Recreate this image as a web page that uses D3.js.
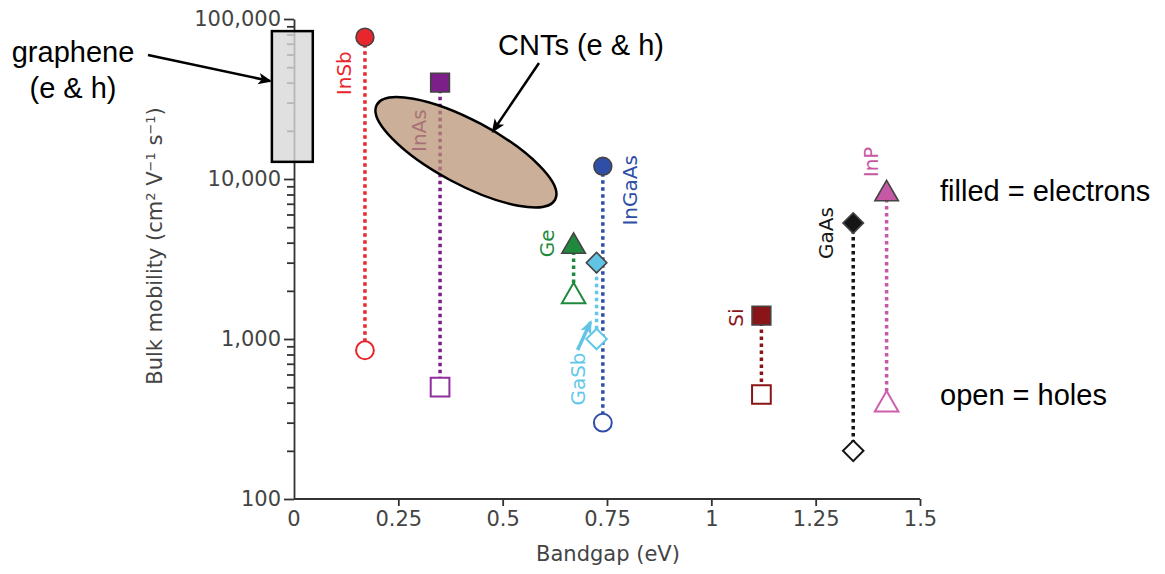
<!DOCTYPE html>
<html lang="en">
<head>
    <meta charset="UTF-8">
    <title>Bulk mobility vs bandgap</title>
    <style>
        body { margin: 0; background: #fff; }
        .tick text { font-family: 'DejaVu Sans', sans-serif; font-size: 21px; fill: #444; }
        .domain, .tick line { stroke: #333; stroke-width: 1.8px; }
        .note { font-family: 'Liberation Sans', Arial, sans-serif; font-size: 29px; fill: #000; }
        .matLabel { font-family: 'DejaVu Sans', sans-serif; font-size: 20px; }
        .axisTitle { font-family: 'DejaVu Sans', sans-serif; font-size: 21px; fill: #444; }
        .link { fill: none; stroke-width: 3.5px; stroke-dasharray: 3.5, 3.5; }
    </style>
</head>
<body>

<script src="https://d3js.org/d3.v7.min.js"></script>

<script>

    const width = 1165;
    const height = 574;

    // materials, bandgap (eV) and bulk mobilities (cm2/Vs)
    const materials = ['InSb', 'InAs', 'InGaAs', 'Ge', 'GaSb', 'Si', 'GaAs', 'InP'];
    const bandgap = [0.17, 0.35, 0.74, 0.67, 0.725, 1.12, 1.34, 1.42];
    const electronMobility = [77000, 40000, 12000, 3900, 3000, 1400, 5300, 8300];
    const holeMobility = [850, 500, 300, 1900, 1000, 450, 200, 400];
    const shapes = ['circle', 'square', 'circle', 'triangle', 'diamond', 'square', 'diamond', 'triangle'];

    const xTicks = [0.25, 0.5, 0.75, 1, 1.25, 1.5];
    const xTickLabels = ['0.25', '0.5', '0.75', '1', '1.25', '1.5'];
    const yMajor = [100, 1000, 10000, 100000];
    const yMajorLabels = ['100', '1,000', '10,000', '100,000'];

    // annotation regions (data units)
    const grapheneX = [-0.053, 0.045];
    const grapheneY = [12800, 84000];
    const cntCentre = [0.412, 14700];

    const colour = {
        'InSb': '#e8262c',
        'InAs': '#7c1f88',
        'InGaAs': '#2f4ea8',
        'Ge': '#1f8a3d',
        'GaSb': '#62c4e4',
        'Si': '#8a1519',
        'GaAs': '#151515',
        'InP': '#c658a6'
    };
    const holeColour = {
        'InSb': '#e8262c',
        'InAs': '#8f2e9c',
        'InGaAs': '#2f4ea8',
        'Ge': '#1f8a3d',
        'GaSb': '#62c8ea',
        'Si': '#8a1519',
        'GaAs': '#151515',
        'InP': '#cd5fae'
    };
    // label offsets (px) from the electron point, or hole point for GaSb
    const labelOffset = {
        'InSb': [-21, 36], 'InAs': [-21, 48], 'InGaAs': [27, 24], 'Ge': [-27, -1],
        'GaSb': [-19, 40], 'Si': [-25, 2], 'GaAs': [-27, 10], 'InP': [-16, -30]
    };

    let x = d3.scaleLinear().domain([0, 1.5]).range([294, 920]);
    let y = d3.scaleLog().domain([100, 100000]).range([499, 19]);

    let svg = d3.select('body').append('svg')
        .attr('width', width)
        .attr('height', height);

    let defs = svg.append('defs');
    defs.append('marker')
        .attr('id', 'head')
        .attr('viewBox', '0 0 12 10')
        .attr('refX', 10).attr('refY', 5)
        .attr('markerWidth', 5.5).attr('markerHeight', 5.5)
        .attr('markerUnits', 'strokeWidth')
        .attr('orient', 'auto')
        .append('path')
        .attr('d', 'M0,0 L12,5 L0,10 L3,5 z')
        .style('fill', '#000');
    defs.append('marker')
        .attr('id', 'headBlue')
        .attr('viewBox', '0 0 12 10')
        .attr('refX', 10).attr('refY', 5)
        .attr('markerWidth', 4).attr('markerHeight', 4)
        .attr('markerUnits', 'strokeWidth')
        .attr('orient', 'auto')
        .append('path')
        .attr('d', 'M0,0 L12,5 L0,10 L3,5 z')
        .style('fill', colour['GaSb']);

    // axes
    let minor = [];
    for (let d = 100; d < 100000; d *= 10) {
        for (let k = 2; k < 10; k++) minor.push(d * k);
    }

    svg.append('g')
        .attr('transform', 'translate(294,0)')
        .call(d3.axisLeft(y).tickValues(minor).tickSize(7).tickFormat(''))
        .call(g => g.select('.domain').remove());

    svg.append('g')
        .attr('transform', 'translate(294,0)')
        .call(d3.axisLeft(y).tickValues(yMajor).tickSize(10).tickPadding(3).tickSizeOuter(0)
            .tickFormat((d, i) => yMajorLabels[i]));

    let xAxis = svg.append('g')
        .attr('transform', 'translate(0,499)')
        .call(d3.axisBottom(x).tickValues(xTicks).tickSize(7).tickPadding(5).tickSizeOuter(0)
            .tickFormat((d, i) => xTickLabels[i]));
    xAxis.select('.domain').attr('d', 'M' + x(0) + ',0H' + x(1.5));
    xAxis.append('text')
        .attr('x', x(0)).attr('y', 12).attr('dy', '0.71em')
        .attr('text-anchor', 'middle')
        .style('font-family', "'DejaVu Sans', sans-serif").style('font-size', '21px').style('fill', '#444')
        .text('0');

    svg.append('text')
        .attr('class', 'axisTitle')
        .attr('x', 608).attr('y', 561)
        .attr('text-anchor', 'middle')
        .text('Bandgap (eV)');

    let yTitle = svg.append('text')
        .attr('class', 'axisTitle')
        .attr('text-anchor', 'middle')
        .attr('transform', 'translate(162,246) rotate(-90)');
    yTitle.append('tspan').text('Bulk mobility (cm');
    yTitle.append('tspan').attr('baseline-shift', 'super').style('font-size', '13px').text('2');
    yTitle.append('tspan').text(' V');
    yTitle.append('tspan').attr('baseline-shift', 'super').style('font-size', '13px').text('\u22121');
    yTitle.append('tspan').text(' s');
    yTitle.append('tspan').attr('baseline-shift', 'super').style('font-size', '13px').text('\u22121');
    yTitle.append('tspan').text(')');

    // graphene box (drawn over the axis, semi-transparent)
    svg.append('rect')
        .attr('x', x(grapheneX[0]))
        .attr('y', y(grapheneY[1]))
        .attr('width', x(grapheneX[1]) - x(grapheneX[0]))
        .attr('height', y(grapheneY[0]) - y(grapheneY[1]))
        .style('fill', '#d8d8d8')
        .style('fill-opacity', 0.8)
        .style('stroke', '#000')
        .style('stroke-width', '2.5px');

    let data = materials.map((m, i) => ({
        name: m, gap: bandgap[i], e: electronMobility[i], h: holeMobility[i], shape: shapes[i]
    }));

    let plot = svg.append('g');

    // dotted links electron -> hole
    plot.selectAll('line.link')
        .data(data)
        .enter().append('line')
        .attr('class', 'link')
        .attr('x1', d => x(d.gap)).attr('x2', d => x(d.gap))
        .attr('y1', d => y(d.e)).attr('y2', d => y(d.h))
        .style('stroke', d => d.name == 'GaSb' ? holeColour[d.name] : colour[d.name]);

    // material labels
    plot.selectAll('text.matLabel')
        .data(data)
        .enter().append('text')
        .attr('class', 'matLabel')
        .attr('text-anchor', 'middle')
        .attr('dy', '0.35em')
        .attr('transform', d => {
            let base = d.name == 'GaSb' ? y(d.h) : y(d.e);
            let o = labelOffset[d.name];
            return 'translate(' + (x(d.gap) + o[0]) + ',' + (base + o[1]) + ') rotate(-90)';
        })
        .style('fill', d => d.name == 'GaSb' ? holeColour[d.name] : colour[d.name])
        .text(d => d.name);

    // CNT ellipse (semi-transparent over InAs)
    svg.append('ellipse')
        .attr('transform', 'translate(' + x(cntCentre[0]) + ',' + y(cntCentre[1]) + ') rotate(28)')
        .attr('rx', 101)
        .attr('ry', 32)
        .style('fill', '#b89070')
        .style('fill-opacity', 0.72)
        .style('stroke', 'none');
    svg.append('ellipse')
        .attr('transform', 'translate(' + x(cntCentre[0]) + ',' + y(cntCentre[1]) + ') rotate(28)')
        .attr('rx', 101)
        .attr('ry', 32)
        .style('fill', 'none')
        .style('stroke', '#000')
        .style('stroke-width', '2.5px');

    function symbolPath(shape, size) {
        let type = {
            'circle': d3.symbolCircle,
            'square': d3.symbolSquare,
            'triangle': d3.symbolTriangle,
            'diamond': d3.symbolSquare
        }[shape];
        return d3.symbol().type(type).size(size)();
    }
    const symbolSize = {'circle': 250, 'square': 350, 'triangle': 240, 'diamond': 210};

    function markerTransform(px, py, shape) {
        let t = 'translate(' + px + ',' + py + ')';
        if (shape == 'diamond') t += ' rotate(45)';
        if (shape == 'triangle') t += ' translate(0,2)';
        return t;
    }

    // hole markers (open)
    plot.selectAll('path.hole')
        .data(data)
        .enter().append('path')
        .attr('class', 'hole')
        .attr('d', d => symbolPath(d.shape, symbolSize[d.shape]))
        .attr('transform', d => markerTransform(x(d.gap), y(d.h), d.shape))
        .style('fill', '#fff')
        .style('stroke', d => holeColour[d.name])
        .style('stroke-width', '2px');

    // electron markers (filled)
    plot.selectAll('path.electron')
        .data(data)
        .enter().append('path')
        .attr('class', 'electron')
        .attr('d', d => symbolPath(d.shape, symbolSize[d.shape]))
        .attr('transform', d => markerTransform(x(d.gap), y(d.e), d.shape))
        .style('fill', d => colour[d.name])
        .style('stroke', '#444')
        .style('stroke-width', '1.6px');

    // GaSb pointer arrow
    let gasb = data[4];
    svg.append('line')
        .attr('x1', x(gasb.gap) - 19).attr('y1', y(gasb.h) + 11)
        .attr('x2', x(gasb.gap) - 6).attr('y2', y(gasb.h) - 17)
        .style('stroke', colour['GaSb'])
        .style('stroke-width', '3.5px')
        .attr('marker-end', 'url(#headBlue)');

    // annotations
    let notes = svg.append('g');
    notes.append('text').attr('class', 'note').attr('x', 73).attr('y', 62).attr('text-anchor', 'middle').text('graphene');
    notes.append('text').attr('class', 'note').attr('x', 73).attr('y', 98).attr('text-anchor', 'middle').text('(e & h)');
    notes.append('line')
        .attr('x1', 148).attr('y1', 55)
        .attr('x2', x(grapheneX[0]) - 2).attr('y2', 81)
        .style('stroke', '#000').style('stroke-width', '2.5px')
        .attr('marker-end', 'url(#head)');

    notes.append('text').attr('class', 'note').attr('x', 581).attr('y', 55).attr('text-anchor', 'middle').text('CNTs (e & h)');
    notes.append('line')
        .attr('x1', 539).attr('y1', 63)
        .attr('x2', 493).attr('y2', 131)
        .style('stroke', '#000').style('stroke-width', '2.5px')
        .attr('marker-end', 'url(#head)');

    notes.append('text').attr('class', 'note').attr('x', 940).attr('y', 201).text('filled = electrons');
    notes.append('text').attr('class', 'note').attr('x', 940).attr('y', 405).text('open = holes');

</script>

</body>
</html>
